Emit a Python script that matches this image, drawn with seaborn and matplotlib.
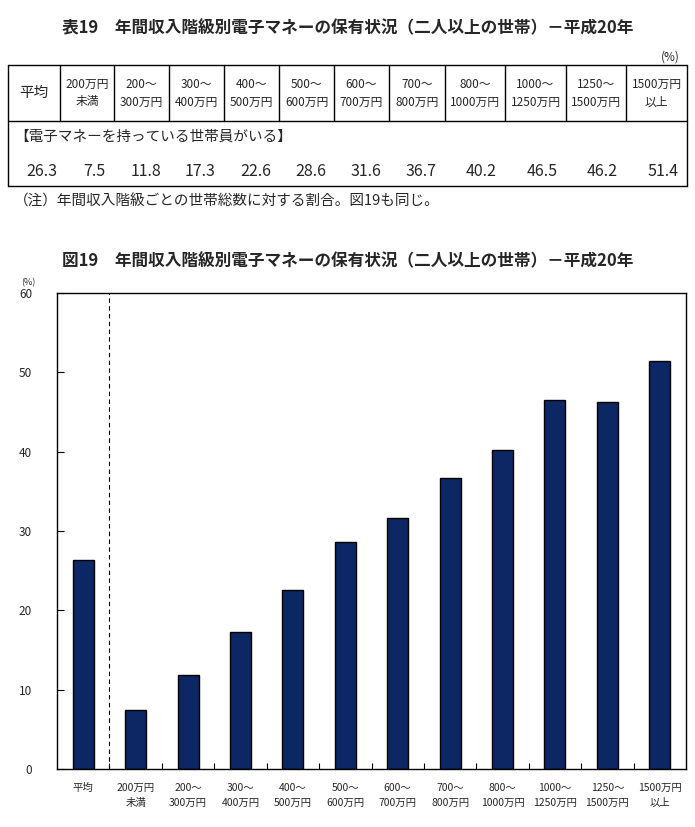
import matplotlib
matplotlib.use("Agg")
import matplotlib.pyplot as plt
import seaborn as sns
import pandas as pd

categories = ["平均", "200万円\n未満", "200～\n300万円", "300～\n400万円", "400～\n500万円",
              "500～\n600万円", "600～\n700万円", "700～\n800万円", "800～\n1000万円",
              "1000～\n1250万円", "1250～\n1500万円", "1500万円\n以上"]
values = [26.3, 7.5, 11.8, 17.3, 22.6, 28.6, 31.6, 36.7, 40.2, 46.5, 46.2, 51.4]
yticks = [0, 10, 20, 30, 40, 50, 60]

table_title = "表19　年間収入階級別電子マネーの保有状況（二人以上の世帯）－平成20年"
chart_title = "図19　年間収入階級別電子マネーの保有状況（二人以上の世帯）－平成20年"
row_label = "【電子マネーを持っている世帯員がいる】"
note = "（注）年間収入階級ごとの世帯総数に対する割合。図19も同じ。"

sns.set_theme(style="white")
plt.rcParams['font.family'] = ['Noto Sans CJK JP', 'DejaVu Sans']

W, H = 695, 827
fig = plt.figure(figsize=(W / 100, H / 100), dpi=100)

# ---- table on a pixel-coordinate overlay axes
ax0 = fig.add_axes([0, 0, 1, 1])
ax0.set_xlim(0, W)
ax0.set_ylim(H, 0)
ax0.axis("off")

ax0.text(W / 2, 28, table_title, ha="center", va="center", fontsize=12, fontweight="bold")
ax0.text(680, 57, "(%)", ha="right", va="center", fontsize=8.5)

col_edges = [8, 60, 114, 169, 224, 279, 334, 389, 445, 505, 566, 626, 687]
top, mid, bot = 65, 121, 186
lw = 1.0
ax0.plot([col_edges[0], col_edges[-1]], [top, top], color="black", lw=lw)
ax0.plot([col_edges[0], col_edges[-1]], [mid, mid], color="black", lw=lw)
ax0.plot([col_edges[0], col_edges[-1]], [bot, bot], color="black", lw=lw)
ax0.plot([col_edges[0], col_edges[0]], [top, bot], color="black", lw=lw)
ax0.plot([col_edges[-1], col_edges[-1]], [top, bot], color="black", lw=lw)
for x in col_edges[1:-1]:
    ax0.plot([x, x], [top, mid], color="black", lw=lw)

for i, cat in enumerate(categories):
    cx = (col_edges[i] + col_edges[i + 1]) / 2
    fs = 10.5 if i == 0 else 8.5
    ax0.text(cx, (top + mid) / 2, cat, ha="center", va="center", fontsize=fs, linespacing=1.5)
    ax0.text(col_edges[i + 1] - 8 if i > 0 else col_edges[i + 1] - 3, 172, f"{values[i]:.1f}",
             ha="right", va="center", fontsize=11.5)

ax0.text(14, 137, row_label, ha="left", va="center", fontsize=10.5)
ax0.text(14, 201, note, ha="left", va="center", fontsize=10.5)
ax0.text(W / 2, 261, chart_title, ha="center", va="center", fontsize=12, fontweight="bold")

# ---- bar chart
left, right, ptop, pbot = 57, 686, 293, 769
ax = fig.add_axes([left / W, 1 - pbot / H, (right - left) / W, (pbot - ptop) / H])
df = pd.DataFrame({"cat": categories, "val": values})
sns.barplot(data=df, x="cat", y="val", ax=ax, color="#0c2763", width=0.4,
            edgecolor="black", linewidth=1.0, saturation=1)
ax.set_xlim(-0.5, len(categories) - 0.5)
ax.set_ylim(0, 60)
ax.set_yticks(yticks)
ax.set_yticklabels([str(t) for t in yticks], fontsize=8.5)
ax.set_xlabel("")
ax.set_ylabel("")
ax.set_xticks(range(len(categories)))
ax.set_xticklabels(categories, fontsize=7.5, linespacing=1.6)
ax.tick_params(axis="x", length=0, pad=10)
ax.set_xticks([i + 0.5 for i in range(len(categories) - 1)], minor=True)
ax.tick_params(axis="x", which="minor", direction="in", length=4, width=0.8, color="black", bottom=True)
ax.tick_params(axis="y", direction="in", length=5, width=0.8, color="black", left=True, pad=18)
for s in ax.spines.values():
    s.set_color("black")
    s.set_linewidth(1.0)
ax.axvline(0.5, color="black", lw=0.8, ls=(0, (4, 3)))
ax.text(-0.045, 1.012, "(%)", transform=ax.transAxes, fontsize=6.5, ha="center", va="bottom")

fig.savefig("out.png", dpi=100)
